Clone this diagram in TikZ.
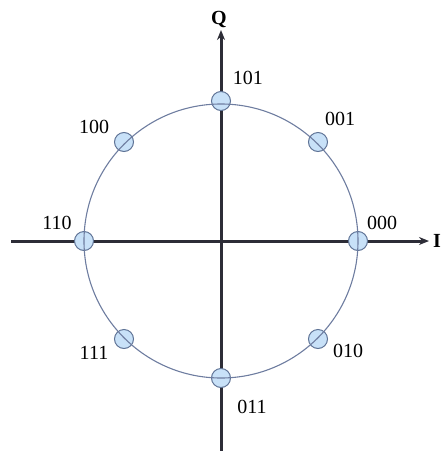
\documentclass[tikz,border=0pt]{standalone}
\usepackage{fontspec}
\setmainfont{Liberation Serif}
\usetikzlibrary{arrows.meta}
\definecolor{axiscol}{RGB}{45,45,55}
\definecolor{ringcol}{RGB}{110,125,160}
\definecolor{dotfill}{RGB}{200,225,248}
\definecolor{dotedge}{RGB}{95,115,150}
\tikzset{
  axisline/.style={draw=axiscol, line width=3pt, -{Stealth[length=10pt,width=8pt]}},
  ring/.style={draw=ringcol, line width=1.1pt},
  symdot/.style={circle, draw=dotedge, line width=1pt, fill=dotfill, minimum size=19pt, inner sep=0pt},
  lbl/.style={font=\fontsize{20}{20}\selectfont, inner sep=0pt, text=black},
  axlbl/.style={font=\fontsize{20}{20}\selectfont\bfseries, inner sep=0pt, text=black}
}
\begin{document}
\begin{tikzpicture}[x=1pt,y=-1pt]
\useasboundingbox (0,0) rectangle (443,451);
\coordinate (ctr) at (221,241);
\coordinate (xl) at (11,241);
\coordinate (xr) at (429,241);
\coordinate (yb) at (221,451);
\coordinate (yt) at (221,30);
\draw[axisline] (xl) -- (xr);
\draw[axisline] (yb) -- (yt);
\node[axlbl] (Q) at (219,19) {Q};
\node[axlbl, anchor=west] (I) at (433,241) {I};
\node[symdot] (d101) at (221,101) {};
\node[symdot] (d001) at (318,142) {};
\node[symdot] (d000) at (358,241) {};
\node[symdot] (d010) at (318,339) {};
\node[symdot] (d011) at (221,378) {};
\node[symdot] (d111) at (124,339) {};
\node[symdot] (d110) at (84,241) {};
\node[symdot] (d100) at (124,142) {};
\draw[ring] (ctr) circle[radius=137];
\node[lbl] (l101) at (248,78) {101};
\node[lbl] (l001) at (340,119) {001};
\node[lbl] (l000) at (382,223) {000};
\node[lbl] (l010) at (348,351) {010};
\node[lbl] (l011) at (252,407) {011};
\node[lbl] (l111) at (94,353) {111};
\node[lbl] (l110) at (57,223) {110};
\node[lbl] (l100) at (94,127) {100};
\end{tikzpicture}
\end{document}
